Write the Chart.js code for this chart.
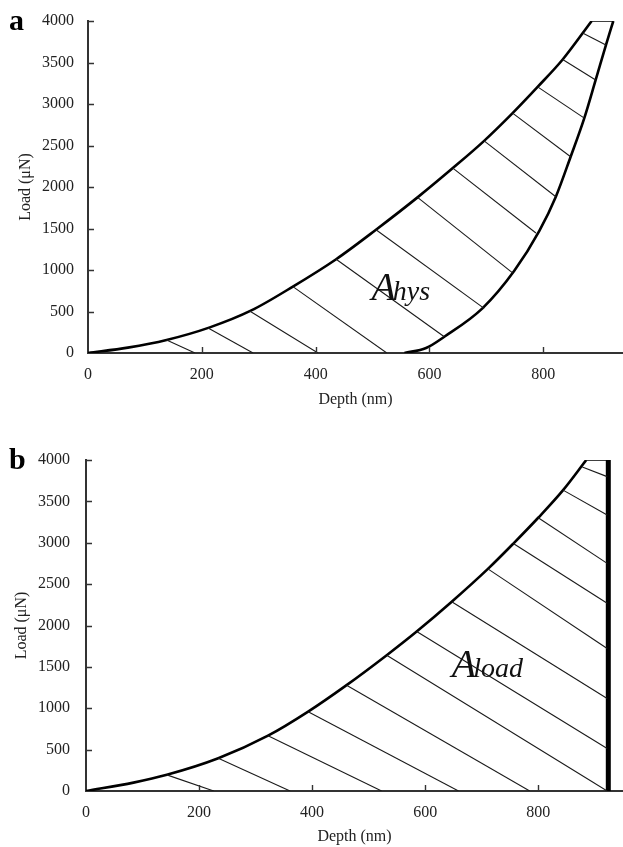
<!DOCTYPE html>
<html>
<head>
<meta charset="utf-8">
<script src="https://cdn.jsdelivr.net/npm/chart.js@4.4.0/dist/chart.umd.min.js"></script>
<style>
  html, body { margin: 0; padding: 0; background: #fff; }
  #wrap { position: relative; width: 623px; height: 847px; overflow: hidden; }
  .panel { position: absolute; left: 0; width: 623px; }
  #pa { top: 0; height: 420px; }
  #pb { top: 420px; height: 427px; }
  .tag { position: absolute; font: bold 30px "Liberation Serif", serif; line-height: 1; color: #000; }
</style>
</head>
<body>
<div id="wrap">
  <div class="panel" id="pa"><canvas id="ca" width="623" height="420"></canvas></div>
  <div class="panel" id="pb"><canvas id="cb" width="623" height="427"></canvas></div>
  <div class="tag" style="left:9px;top:5px">a</div>
  <div class="tag" style="left:9px;top:444px">b</div>
</div>
<script>
// tick values
const xTicks = [0, 200, 400, 600, 800];
const yTicks = [0, 500, 1000, 1500, 2000, 2500, 3000, 3500, 4000];

// panel a: loading / hold / unloading (depth nm, load uN)
const loadDepthA = [0, 70, 138, 214, 287, 360, 436, 506, 579, 641, 696, 746, 790, 834, 885];
const loadForceA = [0, 65, 157, 309, 513, 800, 1130, 1485, 1875, 2228, 2556, 2890, 3206, 3536, 4000];
const holdDepthA = [885, 923];
const holdForceA = [4000, 4000];
const unloadDepthA = [556, 594, 626, 693, 749, 793, 822, 848, 872, 892, 910, 923];
const unloadForceA = [0, 60, 196, 538, 990, 1470, 1883, 2365, 2830, 3290, 3710, 4000];

// panel a hatching (start on loading curve, end on axis / unloading curve)
const hatchFromXA = [138, 211, 284, 360, 436, 506, 579, 641, 696, 746, 790, 834, 869];
const hatchFromYA = [157, 301, 505, 800, 1130, 1485, 1875, 2228, 2556, 2890, 3206, 3536, 3856];
const hatchToXA = [188, 290, 404, 525, 626, 696, 746, 787, 822, 848, 872, 892, 910];
const hatchToYA = [0, 0, 0, 0, 196, 538, 966, 1446, 1883, 2365, 2830, 3290, 3710];

// panel b: loading / hold / max depth line
const loadDepthB = [0, 84, 143, 234, 322, 393, 461, 532, 585, 647, 711, 756, 800, 844, 885];
const loadForceB = [0, 101, 195, 395, 668, 959, 1279, 1641, 1927, 2287, 2684, 2990, 3302, 3636, 4000];
const holdDepthB = [885, 924];
const holdForceB = [4000, 4000];
const maxDepthB = [924, 924];
const maxForceB = [0, 4000];

// panel b hatching
const hatchFromXB = [143, 234, 322, 393, 461, 532, 585, 647, 711, 756, 800, 844, 878];
const hatchFromYB = [195, 395, 668, 959, 1279, 1641, 1927, 2287, 2684, 2990, 3302, 3636, 3915];
const hatchToXB = [226, 361, 523, 659, 785, 922, 922, 922, 922, 922, 922, 922, 922];
const hatchToYB = [0, 0, 0, 0, 0, 0, 513, 1118, 1723, 2268, 2751, 3336, 3799];

const serif = '"Liberation Serif", "Times New Roman", serif';
const pts = (xs, ys) => xs.map((x, i) => ({ x, y: ys[i] }));

function curve(xs, ys, width, smooth) {
  return {
    data: pts(xs, ys), borderColor: '#000', borderWidth: width,
    pointRadius: 0, fill: false,
    tension: smooth ? 0.4 : 0,
    cubicInterpolationMode: smooth ? 'monotone' : 'default',
  };
}

function hatch(fx, fy, tx, ty) {
  return fx.map((x, i) => ({
    data: [{ x, y: fy[i] }, { x: tx[i], y: ty[i] }],
    borderColor: '#1a1a1a', borderWidth: 1.1, pointRadius: 0, fill: false, tension: 0,
  }));
}

// tick marks pointing into the plot
const innerTicks = {
  id: 'innerTicks',
  afterDraw(chart) {
    const { ctx, scales: { x, y } } = chart;
    ctx.save();
    ctx.strokeStyle = '#333';
    ctx.lineWidth = 1.4;
    ctx.beginPath();
    xTicks.slice(1).forEach((v) => {
      const px = Math.round(x.getPixelForValue(v)) + 0.5;
      ctx.moveTo(px, x.top);
      ctx.lineTo(px, x.top - 6);
    });
    yTicks.slice(1).forEach((v) => {
      const py = Math.round(y.getPixelForValue(v)) + 0.5;
      ctx.moveTo(y.right, py);
      ctx.lineTo(y.right + 6, py);
    });
    ctx.stroke();
    ctx.restore();
  },
};

// "A" + italic subscript area label
const areaLabel = {
  id: 'areaLabel',
  afterDatasetsDraw(chart, args, opts) {
    const { ctx, scales: { x, y } } = chart;
    const px = x.getPixelForValue(opts.x);
    const py = y.getPixelForValue(opts.y);
    ctx.save();
    ctx.fillStyle = '#111';
    ctx.textAlign = 'left';
    ctx.textBaseline = 'alphabetic';
    ctx.font = 'italic 40px ' + serif;
    ctx.fillText('A', px, py);
    const w = ctx.measureText('A').width;
    ctx.font = 'italic 28px ' + serif;
    ctx.fillText(opts.sub, px + w - 3, py);
    ctx.restore();
  },
};

function makeChart(id, cfg) {
  const tickFont = { family: serif, size: 16 };
  return new Chart(document.getElementById(id), {
    type: 'line',
    data: { datasets: cfg.datasets },
    plugins: [innerTicks, areaLabel],
    options: {
      responsive: false,
      animation: false,
      layout: { padding: { top: cfg.padTop, left: 0, right: 0, bottom: 0 } },
      plugins: {
        legend: { display: false },
        tooltip: { enabled: false },
        areaLabel: cfg.label,
      },
      scales: {
        x: {
          type: 'linear', min: 0, max: cfg.xMax,
          afterBuildTicks: (s) => { s.ticks = xTicks.map((v) => ({ value: v })); },
          afterFit: (s) => { s.height = cfg.xAxisH; },
          grid: { display: false },
          border: { display: true, color: '#333', width: 2 },
          ticks: { color: '#222', padding: cfg.xTickPad, font: tickFont, maxRotation: 0, autoSkip: false, callback: (v) => String(v) },
          title: { display: true, text: 'Depth (nm)', color: '#222', font: tickFont, padding: { top: 0, bottom: cfg.xTitlePad } },
        },
        y: {
          type: 'linear', min: 0, max: 4000,
          afterBuildTicks: (s) => { s.ticks = yTicks.map((v) => ({ value: v })); },
          afterFit: (s) => { s.width = cfg.yAxisW; },
          grid: { display: false },
          border: { display: true, color: '#333', width: 2 },
          ticks: { color: '#222', padding: cfg.yTickPad, font: tickFont, autoSkip: false, callback: (v) => String(v) },
          title: { display: true, text: 'Load (μN)', color: '#222', font: tickFont, padding: { top: cfg.yTitlePad, bottom: 0 } },
        },
      },
    },
  });
}

makeChart('ca', {
  xMax: 940, padTop: 21, xAxisH: 67, yAxisW: 88,
  xTickPad: 4, yTickPad: 6, xTitlePad: 11, yTitlePad: 16,
  label: { x: 498, y: 642, sub: 'hys' },
  datasets: [
    ...hatch(hatchFromXA, hatchFromYA, hatchToXA, hatchToYA),
    curve(loadDepthA, loadForceA, 2.6, true),
    curve(holdDepthA, holdForceA, 1.5, false),
    curve(unloadDepthA, unloadForceA, 2.6, true),
  ],
});

makeChart('cb', {
  xMax: 950, padTop: 40, xAxisH: 56, yAxisW: 86,
  xTickPad: 4, yTickPad: 8, xTitlePad: 1, yTitlePad: 12,
  label: { x: 647, y: 1379, sub: 'load' },
  datasets: [
    ...hatch(hatchFromXB, hatchFromYB, hatchToXB, hatchToYB),
    curve(loadDepthB, loadForceB, 2.6, true),
    curve(holdDepthB, holdForceB, 1.5, false),
    curve(maxDepthB, maxForceB, 5, false),
  ],
});
</script>
</body>
</html>
